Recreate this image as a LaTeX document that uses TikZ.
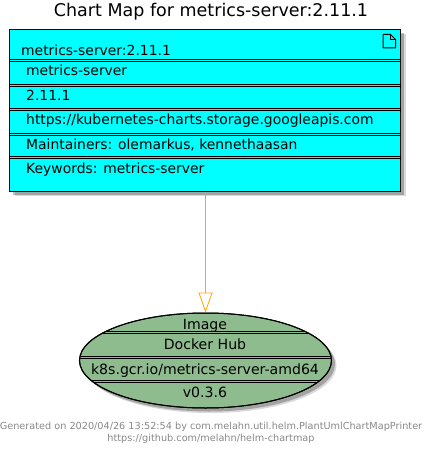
\documentclass[tikz,border=0pt]{standalone}
\usepackage{fontspec}
\setmainfont{DejaVu Sans}
\usetikzlibrary{arrows.meta, positioning, shadows, shapes.geometric}

\definecolor{chartcyan}{HTML}{00FFFF}
\definecolor{imagegreen}{HTML}{8FBC8F}
\definecolor{linkorange}{HTML}{FFA500}
\definecolor{footgray}{HTML}{888888}

\tikzset{
  softshadow/.style={
    drop shadow={shadow xshift=5pt,shadow yshift=-5pt,fill=black,opacity=0.15},
    drop shadow={shadow xshift=3.5pt,shadow yshift=-3.5pt,fill=black,opacity=0.25}},
  chartbox/.style={draw,line width=1pt,rectangle,fill=chartcyan,minimum width=391pt,minimum height=161.5pt,inner sep=0pt,softshadow},
  imageball/.style={draw,line width=1pt,ellipse,fill=imagegreen,minimum width=252pt,minimum height=95pt,inner sep=0pt,softshadow},
  rowtext/.style={anchor=base west,inner sep=0pt,font=\fontsize{13.9}{15}\selectfont},
  balltext/.style={anchor=base,inner sep=0pt,font=\fontsize{14.1}{15}\selectfont},
  foottext/.style={anchor=base,inner sep=0pt,text=footgray,font=\fontsize{9.7}{11}\selectfont}
}

\begin{document}
\begin{tikzpicture}[x=1pt,y=-1pt]

\useasboundingbox (0,0) rectangle (433,454);

\node[anchor=base,inner sep=0pt,font=\fontsize{17.5}{20}\selectfont] (title) at (211,17) {Chart Map for metrics-server:2.11.1};

% chart box
\node[chartbox] (chart) at (205,110.25) {};
\foreach \y in {59.2,84.2,108.2,133.2,156.8} {
    \draw[line width=0.7pt] (chart.west |- 0,\y) -- (chart.east |- 0,\y);
    \draw[line width=0.7pt] (chart.west |- 0,\y+1.8) -- (chart.east |- 0,\y+1.8);
}

% page icon
\draw[line width=1pt,line join=round] (383,34.5) -- (390.5,34.5) -- (395.5,39.5) -- (395.5,48) -- (383,48) -- cycle;
\draw[line width=1pt,line join=round] (390.5,34.5) -- (390.5,39.5) -- (395.5,39.5);

\node[rowtext] (chartname) at (21,56) {metrics-server:2.11.1};
\node[rowtext] (rowname) at (26,76) {metrics-server};
\node[rowtext] (rowversion) at (26,101) {2.11.1};
\node[rowtext] (rowrepo) at (26,125) {https://kubernetes-charts.storage.googleapis.com};
\node[rowtext] (rowmaint) at (26,150) {Maintainers: olemarkus, kennethaasan};
\node[rowtext] (rowkeys) at (26,174) {Keywords: metrics-server};

% image ellipse
\node[imageball] (image) at (205.5,360.5) {};
\begin{scope}
  \clip (image.center) ellipse (126pt and 47.5pt);
  \foreach \y in {331.6,356.4,380.8} {
    \draw[line width=0.7pt] (image.west |- 0,\y) -- (image.east |- 0,\y);
    \draw[line width=0.7pt] (image.west |- 0,\y+1.6) -- (image.east |- 0,\y+1.6);
  }
\end{scope}
\draw[line width=1pt] (image.center) ellipse (126pt and 47.5pt);

\node[balltext] (imagehead) at (205,329) {Image};
\node[balltext] (imagerepo) at (205,349) {Docker Hub};
\node[balltext] (imagepath) at (205,374) {k8s.gcr.io/metrics-server-amd64};
\node[balltext] (imagetag) at (205,397) {v0.3.6};

\draw[linkorange,line width=0.5pt,-{Triangle[open,fill=white,length=20pt,width=14pt,line width=0.8pt]}] (chart.south -| image.north) -- (image.north);

\node[foottext] (footone) at (211,429) {Generated on 2020/04/26 13:52:54 by com.melahn.util.helm.PlantUmlChartMapPrinter};
\node[foottext] (foottwo) at (211,441.7) {https://github.com/melahn/helm-chartmap};

\end{tikzpicture}
\end{document}
